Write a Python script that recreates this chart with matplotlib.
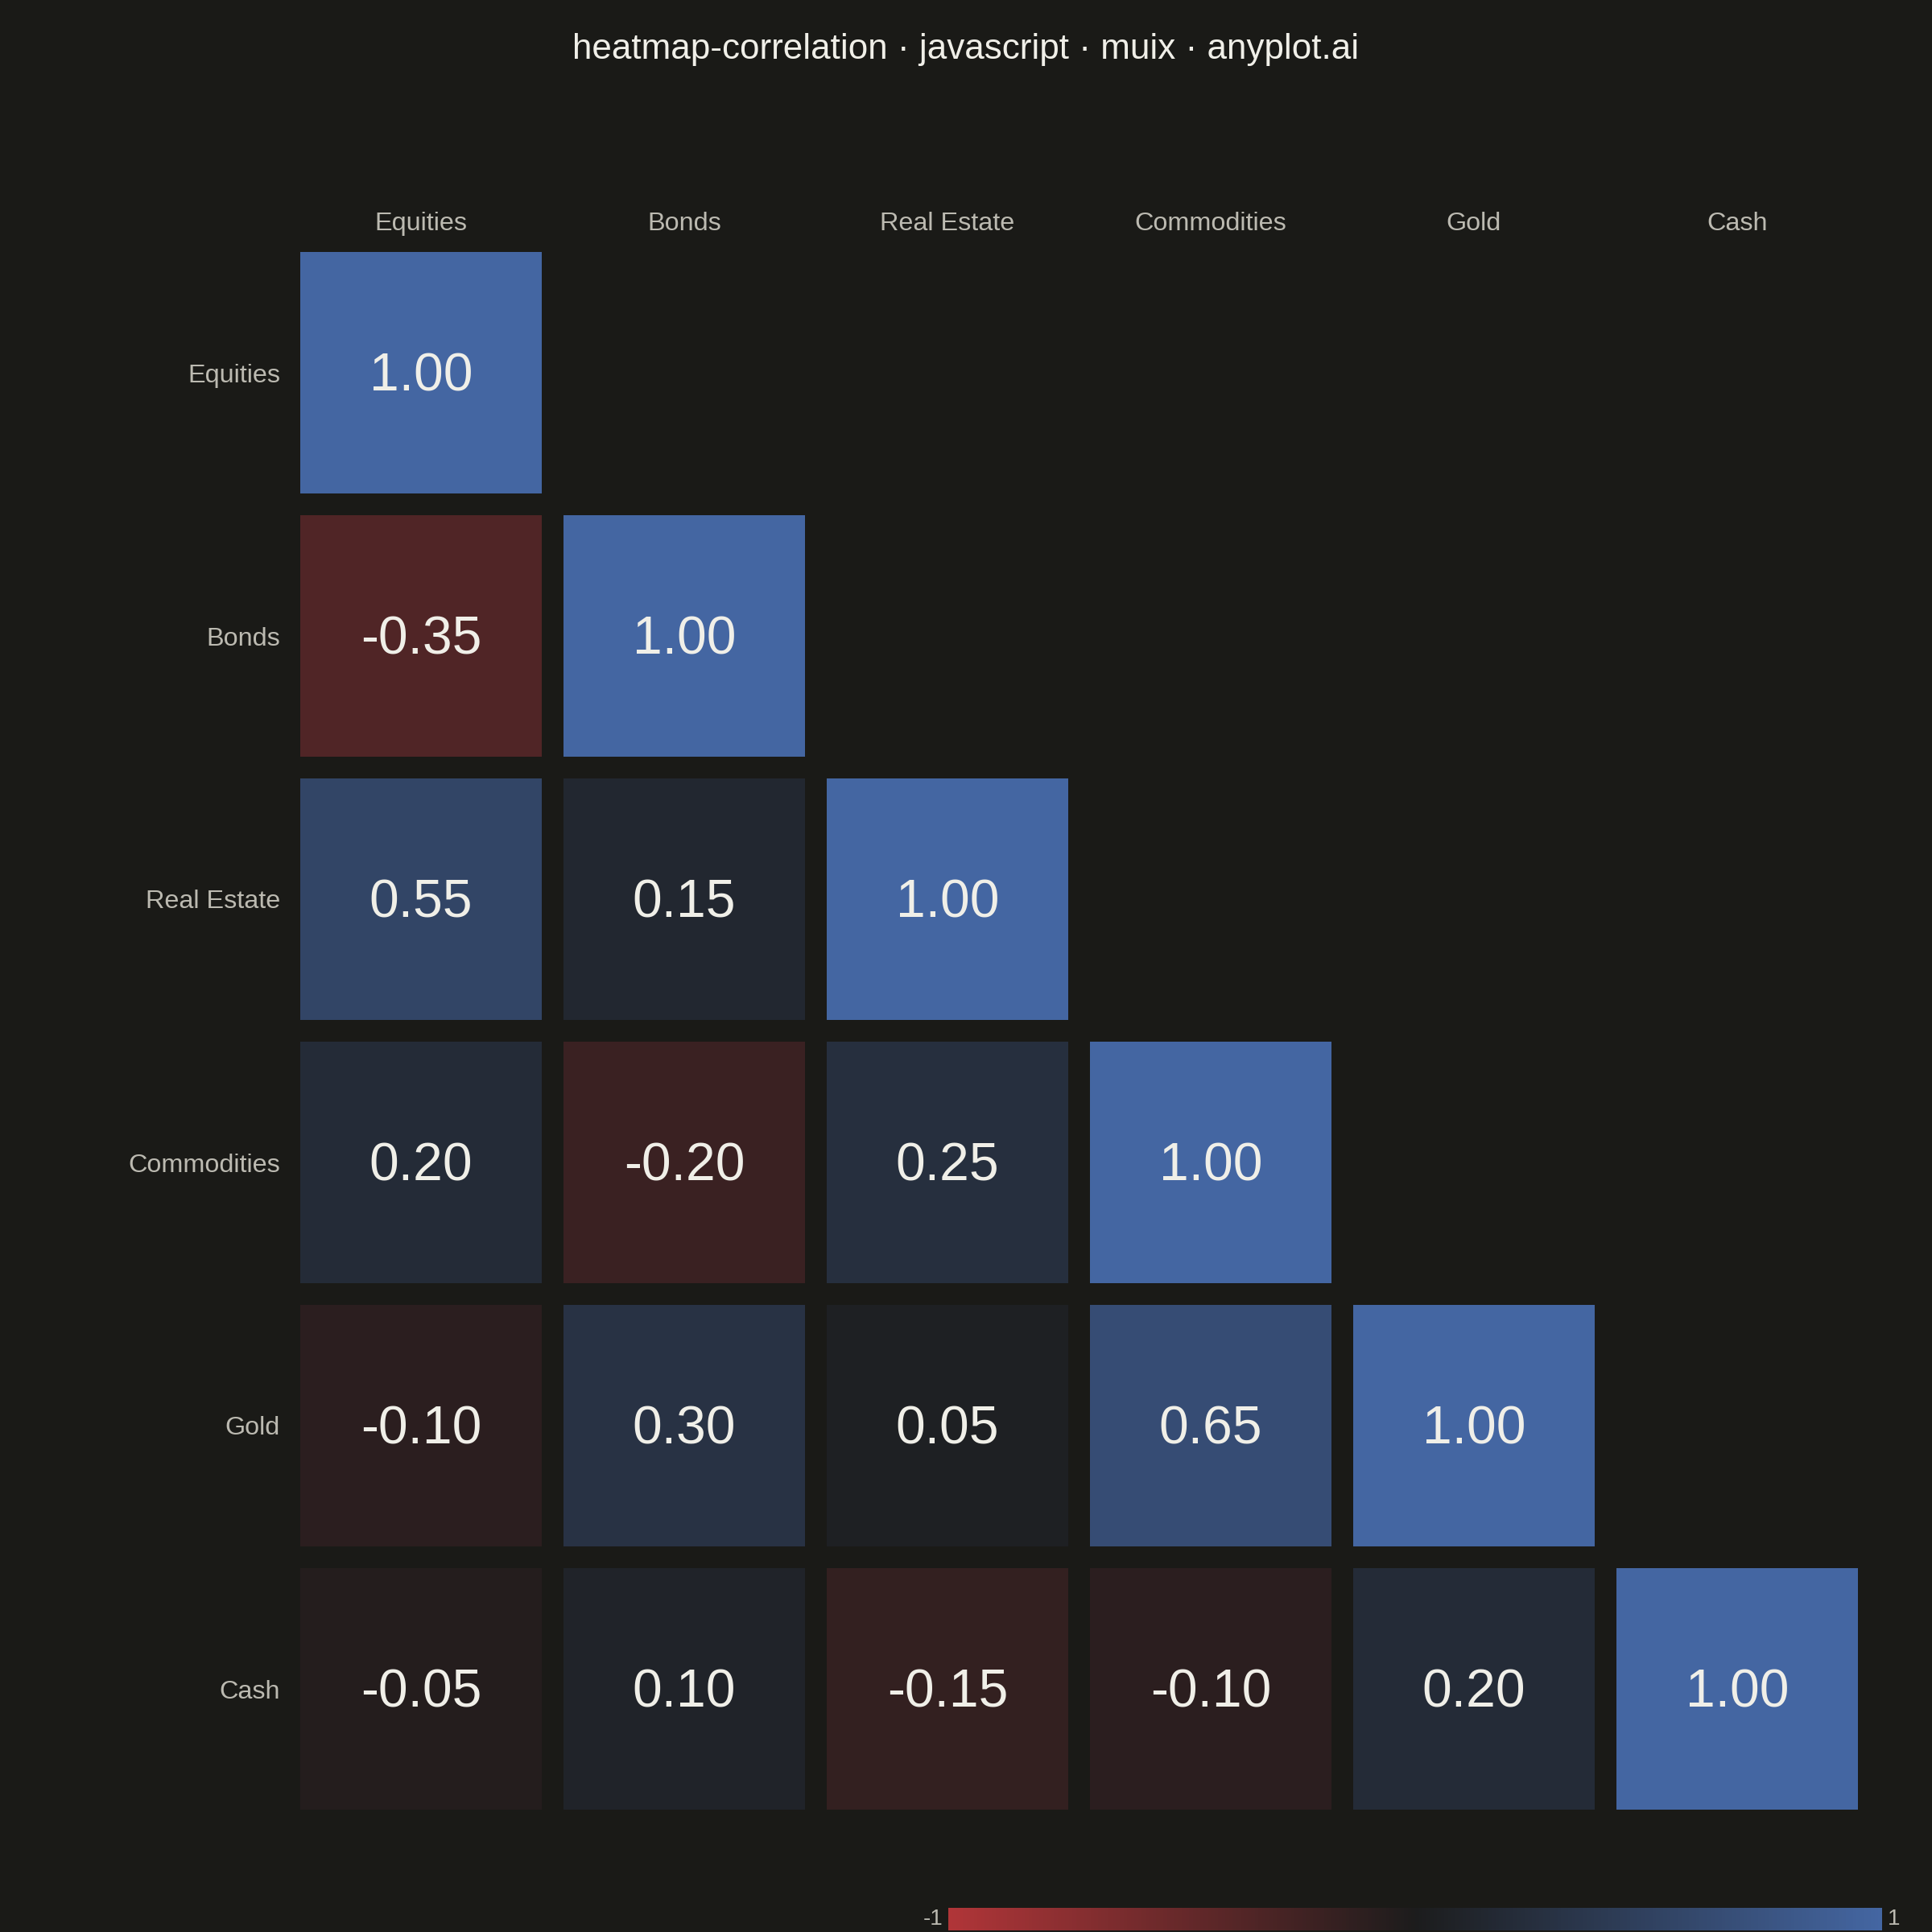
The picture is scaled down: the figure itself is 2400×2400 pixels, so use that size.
import matplotlib
matplotlib.use("Agg")
import matplotlib.pyplot as plt
from matplotlib.colors import LinearSegmentedColormap, Normalize
from matplotlib.patches import Rectangle
from matplotlib.cm import ScalarMappable
import numpy as np

plt.rcParams['font.family'] = ['Liberation Sans', 'DejaVu Sans']

assets = ['Equities', 'Bonds', 'Real Estate', 'Commodities', 'Gold', 'Cash']
corr = np.array([
    [1.00, -0.35, 0.55, 0.20, -0.10, -0.05],
    [-0.35, 1.00, 0.15, -0.20, 0.30, 0.10],
    [0.55, 0.15, 1.00, 0.25, 0.05, -0.15],
    [0.20, -0.20, 0.25, 1.00, 0.65, -0.10],
    [-0.10, 0.30, 0.05, 0.65, 1.00, 0.20],
    [-0.05, 0.10, -0.15, -0.10, 0.20, 1.00],
])

bg = '#1a1a17'
ink = '#f0efe8'
soft = '#bcbab1'

cmap = LinearSegmentedColormap.from_list('rdbu_dark', ['#b03538', '#1c1c1c', '#4466a2'])
norm = Normalize(-1, 1)

fig = plt.figure(figsize=(24, 24), dpi=100, facecolor=bg)
ax = fig.add_axes([359.5 / 2400, 1 - 2261.5 / 2400, 1962 / 2400, 1962 / 2400])
ax.set_facecolor(bg)
n = len(assets)
ax.set_xlim(-0.5, n - 0.5)
ax.set_ylim(n - 0.5, -0.5)

# lower triangle incl. diagonal, small gap between cells
size = 300 / 327
for i in range(n):
    for j in range(i + 1):
        v = corr[i, j]
        ax.add_patch(Rectangle((j - size / 2, i - size / 2), size, size,
                               facecolor=cmap(norm(v)), edgecolor='none'))
        ax.text(j, i + 0.018, f'{v:.2f}', ha='center', va='center',
                fontsize=47.5, color=ink)

ax.xaxis.tick_top()
ax.set_xticks(range(n))
ax.set_xticklabels(assets)
ax.set_yticks(range(n))
ax.set_yticklabels(assets)
ax.tick_params(length=0, labelsize=23.3, labelcolor=soft)
ax.tick_params(axis='x', pad=4.5)
ax.tick_params(axis='y', pad=8.3)
for s in ax.spines.values():
    s.set_visible(False)

fig.text(0.5, 1 - 61.5 / 2400, 'heatmap-correlation · javascript · muix · anyplot.ai',
         ha='center', va='center', fontsize=31.7, color=ink)

cax = fig.add_axes([1178 / 2400, 1 - 2398 / 2400, 1160 / 2400, 28 / 2400])
cb = fig.colorbar(ScalarMappable(norm=norm, cmap=cmap), cax=cax, orientation='horizontal')
cb.outline.set_visible(False)
cb.set_ticks([])
cax.text(-0.006, 0.5, '-1', transform=cax.transAxes, ha='right', va='center',
         fontsize=20, color=soft)
cax.text(1.006, 0.5, '1', transform=cax.transAxes, ha='left', va='center',
         fontsize=20, color=soft)

fig.savefig('out.png', dpi=100, facecolor=bg)
